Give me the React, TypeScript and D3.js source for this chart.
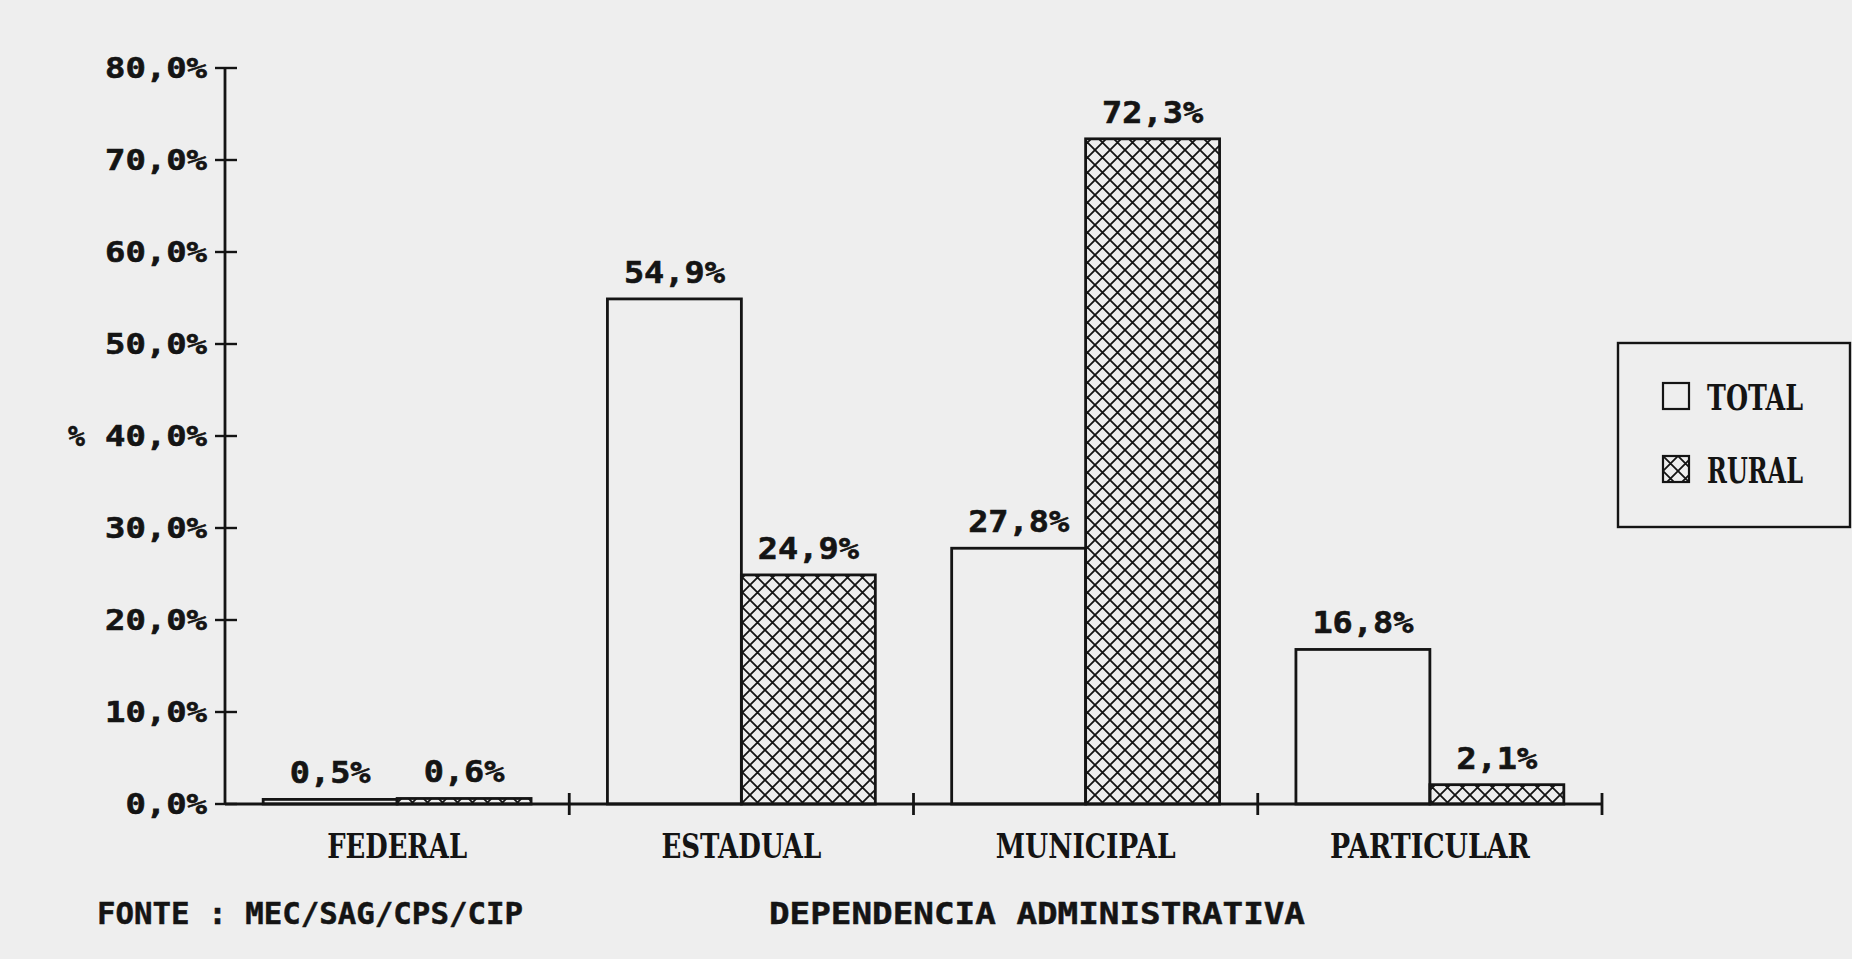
import React from "react";
import * as d3 from "d3";

const categories = ["FEDERAL", "ESTADUAL", "MUNICIPAL", "PARTICULAR"];
const seriesNames = ["TOTAL", "RURAL"];
const totalValues = [0.5, 54.9, 27.8, 16.8];
const ruralValues = [0.6, 24.9, 72.3, 2.1];
const yTicks = [0, 10, 20, 30, 40, 50, 60, 70, 80];
const sourceText = "FONTE : MEC/SAG/CPS/CIP";
const axisTitle = "DEPENDENCIA ADMINISTRATIVA";
const yTitle = "%";

const W = 1852;
const H = 959;
const INK = "#141414";
const BG = "#eeeeee";
const MONO = "'DejaVu Sans Mono', monospace";
const SERIF = "'DejaVu Serif', serif";
const HP = 15;

const fmt = (v: number) => v.toFixed(1).replace(".", ",") + "%";

export default function App() {
  const x = d3.scaleBand<string>().domain(categories).range([225, 1602]).paddingInner(0).paddingOuter(0);
  const inner = d3.scaleBand<string>().domain(seriesNames).range([0, x.bandwidth()]).paddingInner(0).paddingOuter(0.285);
  const y = d3.scaleLinear().domain([0, 80]).range([804, 68]);
  const y0 = y(0);
  const xEnd = x.range()[1];
  const seriesValues = [totalValues, ruralValues];
  const separators = categories.map((c) => (x(c) as number) + x.bandwidth());

  return (
    <svg
      width={W}
      height={H}
      viewBox={`0 0 ${W} ${H}`}
      style={{ position: "fixed", left: 0, top: 0, display: "block" }}
    >
      <defs>
        <pattern id="hatch" patternUnits="userSpaceOnUse" width={HP} height={HP}>
          <path
            d={`M0,0 L${HP},${HP} M${HP},0 L0,${HP} M-1,${HP - 1} L1,${HP + 1} M${HP - 1},-1 L${HP + 1},1`}
            stroke={INK}
            strokeWidth={1.8}
            fill="none"
          />
        </pattern>
      </defs>
      <rect x={0} y={0} width={W} height={H} fill={BG} />

      {/* bars */}
      {categories.map((c, ci) =>
        seriesNames.map((s, si) => {
          const v = seriesValues[si][ci];
          const bx = (x(c) as number) + (inner(s) as number);
          const bw = inner.bandwidth();
          const top = y(v);
          return (
            <g key={c + s}>
              <rect
                x={bx}
                y={top}
                width={bw}
                height={y0 - top}
                fill={si === 1 ? "url(#hatch)" : "none"}
                stroke={INK}
                strokeWidth={2.8}
              />
              <text
                x={bx + bw / 2}
                y={top - 16}
                textAnchor="middle"
                fontFamily={MONO}
                fontWeight="bold"
                fontSize={31}
                textLength={fmt(v).length * 20.2}
                lengthAdjust="spacingAndGlyphs"
                stroke={INK}
                strokeWidth={0.6}
                fill={INK}
              >
                {fmt(v)}
              </text>
            </g>
          );
        })
      )}

      {/* y axis */}
      <line x1={225} x2={225} y1={y(80)} y2={y0} stroke={INK} strokeWidth={2.8} />
      {yTicks.map((t) => (
        <g key={t}>
          <line x1={215} x2={237} y1={y(t)} y2={y(t)} stroke={INK} strokeWidth={2.4} />
          <text
            x={207}
            y={y(t) + 10}
            textAnchor="end"
            fontFamily={MONO}
            fontWeight="bold"
            fontSize={28}
            textLength={fmt(t).length * 20.4}
            lengthAdjust="spacingAndGlyphs"
            stroke={INK}
            strokeWidth={0.6}
            fill={INK}
          >
            {fmt(t)}
          </text>
        </g>
      ))}
      <text x={68} y={y(40) + 10} fontFamily={MONO} fontWeight="bold" fontSize={28} stroke={INK} strokeWidth={0.6} fill={INK}>
        {yTitle}
      </text>

      {/* x axis */}
      <line x1={225} x2={xEnd} y1={y0} y2={y0} stroke={INK} strokeWidth={2.8} />
      {separators.map((sx, i) => (
        <line key={i} x1={sx} x2={sx} y1={y0 - 11} y2={y0 + 11} stroke={INK} strokeWidth={2.8} />
      ))}
      {categories.map((c) => (
        <text
          key={c}
          x={(x(c) as number) + x.bandwidth() / 2}
          y={858}
          textAnchor="middle"
          fontFamily={SERIF}
          fontWeight="bold"
          fontSize={34}
          textLength={c.length * 20}
          lengthAdjust="spacingAndGlyphs"
          fill={INK}
        >
          {c}
        </text>
      ))}

      {/* footer */}
      <text x={97} y={924} fontFamily={MONO} fontWeight="bold" fontSize={31} textLength={426} lengthAdjust="spacingAndGlyphs" stroke={INK} strokeWidth={0.5} fill={INK}>
        {sourceText}
      </text>
      <text x={769} y={924} fontFamily={MONO} fontWeight="bold" fontSize={31} textLength={536} lengthAdjust="spacingAndGlyphs" stroke={INK} strokeWidth={0.5} fill={INK}>
        {axisTitle}
      </text>

      {/* legend */}
      <rect x={1618} y={343} width={232} height={184} fill="none" stroke={INK} strokeWidth={2.4} />
      {seriesNames.map((s, i) => (
        <g key={s} transform={`translate(1663, ${383 + i * 73})`}>
          <rect x={0} y={0} width={26} height={26} fill={i === 1 ? "url(#hatch)" : "none"} stroke={INK} strokeWidth={2.2} />
          <text
            x={44}
            y={27}
            fontFamily={SERIF}
            fontWeight="bold"
            fontSize={35}
            textLength={s.length * 19.2}
            lengthAdjust="spacingAndGlyphs"
            fill={INK}
          >
            {s}
          </text>
        </g>
      ))}
    </svg>
  );
}
